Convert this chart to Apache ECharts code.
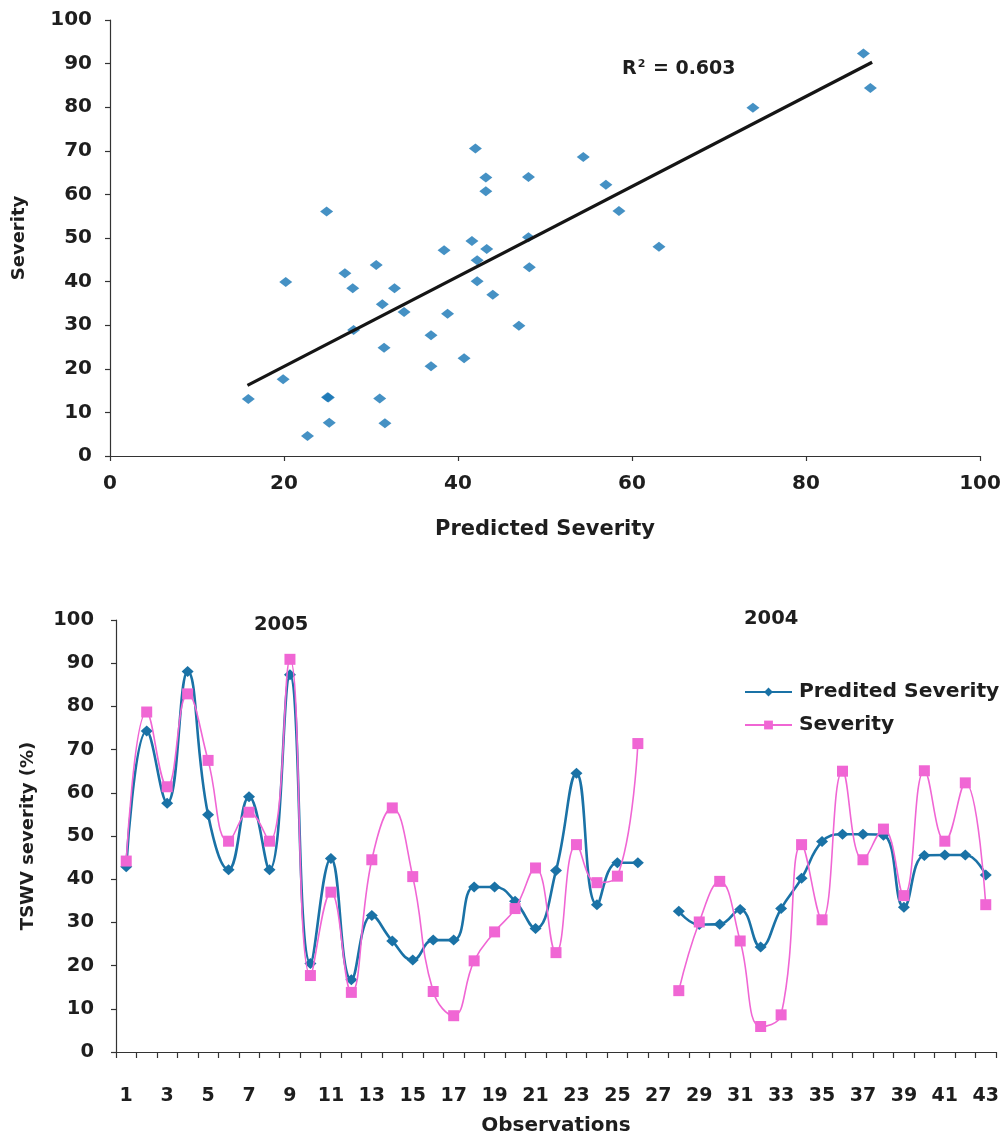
<!DOCTYPE html>
<html>
<head>
<meta charset="utf-8">
<script src="https://cdn.jsdelivr.net/npm/echarts@6/dist/echarts.min.js"></script>
<style>
html,body{margin:0;padding:0;background:#fff;}
#chart{width:1007px;height:1138px;}
</style>
</head>
<body>
<div id="chart"></div>
<script>
// ---- Top panel: scatter of Severity vs Predicted Severity ----
var scatterPredicted = [42.0, 43.2, 48.1, 43.2, 24.9, 48.1, 41.6, 38.4, 43.3, 42.2, 30.6, 48.2, 27.0, 20.2, 42.2, 27.9, 32.7, 44.0, 31.3, 33.8, 38.8, 28.0, 47.0, 36.9, 31.5, 40.7, 36.9, 19.9, 15.9, 25.1, 25.0, 31.0, 25.2, 31.6, 22.7, 86.6, 87.4, 73.9, 54.4, 57.0, 58.5, 63.1];
var scatterSeverity  = [70.5, 63.9, 64.0, 60.7, 56.1, 50.2, 49.3, 47.2, 47.5, 44.9, 43.8, 43.3, 41.9, 39.9, 40.1, 38.5, 38.5, 37.0, 34.8, 33.0, 32.6, 28.9, 29.9, 27.7, 24.8, 22.4, 20.6, 17.6, 13.1, 13.4, 13.5, 13.2, 7.6, 7.5, 4.6, 92.3, 84.4, 79.9, 68.6, 62.2, 56.2, 48.0];
var trendX = [15.8, 87.6];
var trendY = [16.2, 90.3];
var r2Text = '0.603';

// ---- Bottom panel: observations ----
var observations = ['1','2','3','4','5','6','7','8','9','10','11','12','13','14','15','16','17','18','19','20','21','22','23','24','25','26','27','28','29','30','31','32','33','34','35','36','37','38','39','40','41','42','43'];
var predictedSeverity = [42.9, 74.3, 57.6, 88.1, 54.9, 42.2, 59.1, 42.2, 87.3, 20.5, 44.8, 16.7, 31.6, 25.7, 21.3, 25.9, 25.9, 38.2, 38.2, 34.9, 28.6, 42.0, 64.5, 34.1, 43.8, 43.8, null, 32.6, 29.5, 29.6, 33.0, 24.3, 33.2, 40.2, 48.7, 50.4, 50.4, 50.2, 33.5, 45.5, 45.6, 45.6, 41.0];
var severity          = [44.2, 78.7, 61.4, 82.9, 67.5, 48.8, 55.5, 48.8, 90.9, 17.7, 37.0, 13.8, 44.5, 56.5, 40.6, 14.0, 8.4, 21.1, 27.8, 33.2, 42.6, 23.0, 48.0, 39.2, 40.7, 71.4, null, 14.2, 30.1, 39.5, 25.7, 5.9, 8.6, 48.0, 30.6, 65.0, 44.5, 51.6, 36.2, 65.1, 48.8, 62.3, 34.1];
var yearLabels = ['2005', '2004'];

var FONT = 'DejaVu Sans';
var TXT = '#1e1e1e';
var BLUE = '#1a72a6';
var PINK = '#f066d4';

var scatterData = scatterPredicted.map(function (x, i) { return [x, scatterSeverity[i]]; });
var trendData = trendX.map(function (x, i) { return [x, trendY[i]]; });

var axisLineStyle = { show: true, lineStyle: { color: '#333', width: 1.2 } };
var tickStyle = { show: true, length: 5, lineStyle: { color: '#333', width: 1.2 } };

var chart = echarts.init(document.getElementById('chart'), null, { renderer: 'canvas' });
chart.setOption({
  backgroundColor: '#fff',
  animation: false,
  grid: [
    { left: 110, right: 27, top: 20, bottom: 682, containLabel: false },
    { left: 116, right: 11, top: 620, bottom: 86, containLabel: false }
  ],
  xAxis: [
    {
      gridIndex: 0, type: 'value', min: 0, max: 100, interval: 20,
      name: 'Predicted Severity', nameLocation: 'middle', nameGap: 63,
      nameTextStyle: { fontFamily: FONT, fontWeight: 'bold', fontSize: 21, color: TXT },
      axisLine: axisLineStyle, axisTick: tickStyle, splitLine: { show: false },
      axisLabel: { fontFamily: FONT, fontWeight: 'bold', fontSize: 20, color: TXT, margin: 18 }
    },
    {
      gridIndex: 1, type: 'category', data: observations, boundaryGap: true,
      name: 'Observations', nameLocation: 'middle', nameGap: 64,
      nameTextStyle: { fontFamily: FONT, fontWeight: 'bold', fontSize: 20, color: TXT },
      axisLine: axisLineStyle,
      axisTick: { show: true, length: 6, interval: 0, alignWithLabel: false, lineStyle: { color: '#333', width: 1.2 } },
      splitLine: { show: false },
      axisLabel: { interval: 1, fontFamily: FONT, fontWeight: 'bold', fontSize: 19, color: TXT, margin: 35 }
    }
  ],
  yAxis: [
    {
      gridIndex: 0, type: 'value', min: 0, max: 100, interval: 10,
      name: 'Severity', nameLocation: 'middle', nameGap: 82,
      nameTextStyle: { fontFamily: FONT, fontWeight: 'bold', fontSize: 18, color: TXT },
      axisLine: axisLineStyle, axisTick: tickStyle, splitLine: { show: false },
      axisLabel: { fontFamily: FONT, fontWeight: 'bold', fontSize: 20, color: TXT, margin: 18 }
    },
    {
      gridIndex: 1, type: 'value', min: 0, max: 100, interval: 10,
      name: 'TSWV severity (%)', nameLocation: 'middle', nameGap: 79,
      nameTextStyle: { fontFamily: FONT, fontWeight: 'bold', fontSize: 18, color: TXT },
      axisLine: axisLineStyle, axisTick: tickStyle, splitLine: { show: false },
      axisLabel: { fontFamily: FONT, fontWeight: 'bold', fontSize: 19.5, color: TXT, margin: 22 }
    }
  ],
  legend: {
    data: ['Predited Severity', 'Severity'],
    orient: 'vertical', left: 739, top: 677,
    itemWidth: 47, itemHeight: 11, itemGap: 13,
    textStyle: { fontFamily: FONT, fontWeight: 'bold', fontSize: 20.3, color: TXT, padding: [0, 0, 0, 2] }
  },
  graphic: [
    {
      type: 'text', left: 622, top: 59,
      style: {
        text: '{a|R}{s|2}{a| = ' + r2Text + '}',
        rich: {
          a: { fontFamily: FONT, fontWeight: 'bold', fontSize: 19, fill: TXT, verticalAlign: 'bottom' },
          s: { fontFamily: FONT, fontWeight: 'bold', fontSize: 11, fill: TXT, verticalAlign: 'top', padding: [0, 1, 9, 1] }
        }
      }
    },
    { type: 'text', left: 254, top: 615, style: { text: yearLabels[0], fontFamily: FONT, fontWeight: 'bold', fontSize: 19.5, fill: TXT } },
    { type: 'text', left: 744, top: 609, style: { text: yearLabels[1], fontFamily: FONT, fontWeight: 'bold', fontSize: 19.5, fill: TXT } }
  ],
  series: [
    {
      name: 'obs', type: 'scatter', xAxisIndex: 0, yAxisIndex: 0,
      data: scatterData, symbol: 'diamond', symbolSize: [13, 10],
      itemStyle: { color: '#1775b5' }, z: 3
    },
    {
      name: 'trend', type: 'line', xAxisIndex: 0, yAxisIndex: 0,
      data: trendData, showSymbol: false, symbol: 'none',
      lineStyle: { color: '#151515', width: 3.2 }, z: 4
    },
    {
      name: 'Predited Severity', type: 'line', xAxisIndex: 1, yAxisIndex: 1,
      data: predictedSeverity, smooth: 0.45, connectNulls: false,
      symbol: 'diamond', symbolSize: [12, 11],
      lineStyle: { color: BLUE, width: 2.6 }, itemStyle: { color: BLUE }, z: 3
    },
    {
      name: 'Severity', type: 'line', xAxisIndex: 1, yAxisIndex: 1,
      data: severity, smooth: 0.45, connectNulls: false,
      symbol: 'rect', symbolSize: 11,
      lineStyle: { color: PINK, width: 1.6 }, itemStyle: { color: PINK }, z: 4
    }
  ]
});
</script>
</body>
</html>
